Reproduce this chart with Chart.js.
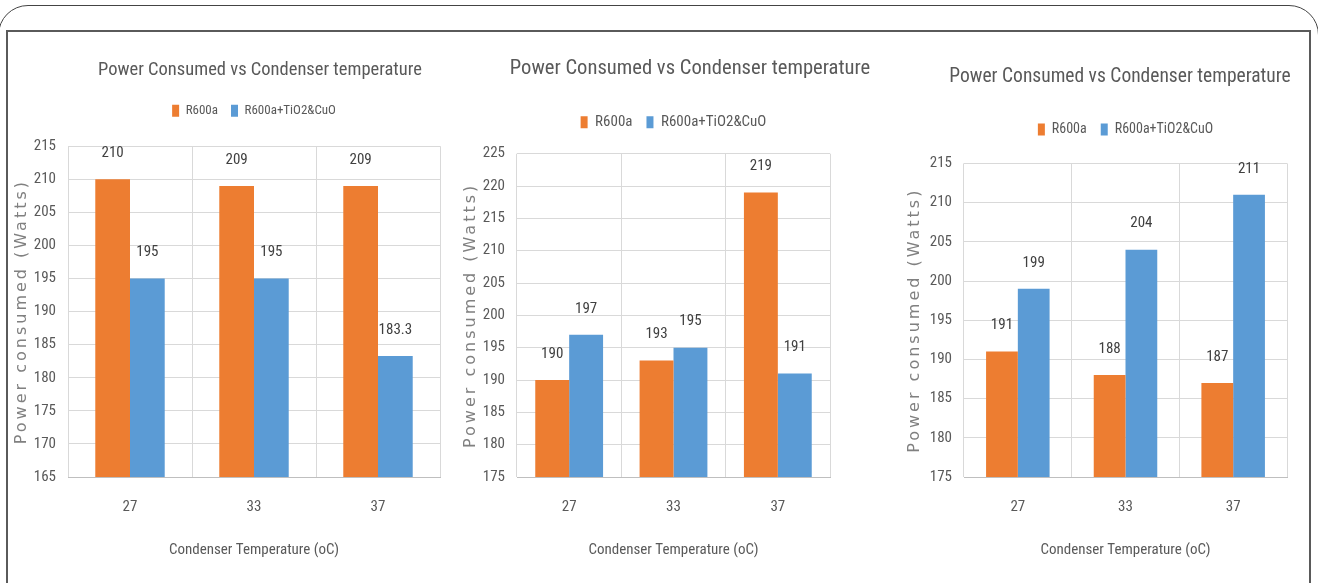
<!DOCTYPE html>
<html>
<head>
<meta charset="utf-8">
<script src="https://cdn.jsdelivr.net/npm/chart.js@4.4.0/dist/chart.umd.min.js"></script>
<style>
html,body{margin:0;padding:0;background:#fff;}
body{width:1318px;height:583px;position:relative;overflow:hidden;}
.outer{position:absolute;left:-2px;top:5px;width:1321px;height:640px;border:1.5px solid #444;border-radius:30px;box-sizing:border-box;}
.inner{position:absolute;left:6px;top:30px;width:1305px;height:600px;border:2px solid #5a5a5a;box-sizing:border-box;}
.box{position:absolute;top:40px;height:543px;}
#b1{left:8px;width:504px}
#b2{left:457px;width:466px}
#b3{left:901px;width:438px}
</style>
</head>
<body>
<div class="outer"></div>
<div class="inner"></div>
<div class="box" id="b1"><canvas id="c1"></canvas></div>
<div class="box" id="b2"><canvas id="c2"></canvas></div>
<div class="box" id="b3"><canvas id="c3"></canvas></div>
<script>
// three bar charts, same categories, two refrigerant series each
const categories = ['27', '33', '37'];
const seriesNames = ['R600a', 'R600a+TiO2&CuO'];
const titleText = 'Power Consumed vs Condenser temperature';
const xTitle = 'Condenser Temperature (oC)';
const yTitle = 'Power consumed (Watts)';

const r600a1 = [210, 209, 209];
const nano1  = [195, 195, 183.3];
const r600a2 = [190, 193, 219];
const nano2  = [197, 195, 191];
const r600a3 = [191, 188, 187];
const nano3  = [199, 204, 211];

const yRange1 = [165, 215];
const yRange2 = [175, 225];
const yRange3 = [175, 215];

const ORANGE = '#ED7D31', BLUE = '#5B9BD5';
const NARROW = "'Liberation Sans Narrow', 'Arial Narrow', 'Roboto Condensed', sans-serif";
const GREY = '#595959';

function qs(id){ return document.getElementById(id); }

// numbers above the bars
const valueLabels = {
  id: 'valueLabels',
  afterDatasetsDraw(chart){
    const ctx = chart.ctx;
    ctx.save();
    ctx.font = '15px ' + NARROW;
    ctx.fillStyle = '#404040';
    ctx.textAlign = 'center';
    ctx.textBaseline = 'middle';
    chart.data.datasets.forEach((ds, i) => {
      chart.getDatasetMeta(i).data.forEach((bar, j) => {
        ctx.fillText(String(ds.data[j]), bar.x, bar.y - 26);
      });
    });
    ctx.restore();
  }
};

// extra room under the legend + spaced-out y title (excel look)
const tweaks = {
  id: 'tweaks',
  afterInit(chart, args, opts){
    const lg = chart.legend;
    const fit = lg.fit;
    lg.fit = function(){ fit.call(this); this.height += opts.gap; };
  },
  afterUpdate(chart){
    const y = chart.scales.y;
    if(y._spaced) return;
    const orig = y.drawTitle;
    y.drawTitle = function(){
      this.ctx.save(); this.ctx.letterSpacing = '3px';
      orig.apply(this, arguments);
      this.ctx.restore();
    };
    y._spaced = true;
  }
};

function build(id, a, b, range, cfg){
  return new Chart(qs(id), {
    type: 'bar',
    data: {
      labels: categories,
      datasets: [
        {label: seriesNames[0], data: a, backgroundColor: ORANGE},
        {label: seriesNames[1], data: b, backgroundColor: BLUE}
      ]
    },
    options: {
      responsive: true, maintainAspectRatio: false, animation: false,
      layout: {padding: {left: 0, right: 0, top: 0, bottom: 20}},
      datasets: {bar: {categoryPercentage: cfg.cat, barPercentage: 1}},
      plugins: {
        title: {display: true, text: titleText, color: GREY,
                font: {family: NARROW, size: cfg.titleSize, weight: 'normal'},
                padding: {top: cfg.titleTop, bottom: cfg.titleBottom}},
        legend: {fullSize: false,
                 labels: {boxWidth: 7, boxHeight: 12, color: GREY, padding: cfg.legPad,
                          font: {family: NARROW, size: cfg.legSize}}},
        tooltip: {enabled: false},
        tweaks: {gap: cfg.gap}
      },
      scales: {
        x: {
          grid: {color: '#d9d9d9', drawTicks: false},
          border: {color: '#bfbfbf'},
          ticks: {color: GREY, font: {family: NARROW, size: 15}, padding: 21},
          title: {display: true, text: xTitle, color: GREY,
                  font: {family: NARROW, size: 15}, padding: {top: 4, bottom: 4}}
        },
        y: {
          min: range[0], max: range[1],
          grid: {color: '#d9d9d9', drawTicks: false},
          border: {display: false},
          ticks: {stepSize: 5, color: GREY, font: {family: NARROW, size: 15}, padding: 12},
          title: {display: true, text: yTitle, color: '#808080',
                  font: {family: 'DejaVu Sans', size: 16}, padding: {top: 4, bottom: 4}},
          afterFit: s => { s.width = cfg.yw; }
        },
        // empty right-hand axis: only widens the title's box
        pad: {
          position: 'right', grid: {display: false}, border: {display: false},
          ticks: {display: false},
          afterFit: s => { s.width = cfg.rightw; }
        }
      }
    },
    plugins: [valueLabels, tweaks]
  });
}

build('c1', r600a1, nano1, yRange1, {rightw: 72, cat: 0.56, titleSize: 18.5, titleTop: 19, titleBottom: 10, legSize: 13, legPad: 13, gap: 19, yw: 60});
build('c2', r600a2, nano2, yRange2, {rightw: 93, cat: 0.65, titleSize: 20.6, titleTop: 16, titleBottom: 20, legSize: 15, legPad: 14, gap: 14, yw: 60});
build('c3', r600a3, nano3, yRange3, {rightw: 52, cat: 0.59, titleSize: 19.5, titleTop: 25, titleBottom: 20, legSize: 14, legPad: 14, gap: 17, yw: 63});
</script>
</body>
</html>
